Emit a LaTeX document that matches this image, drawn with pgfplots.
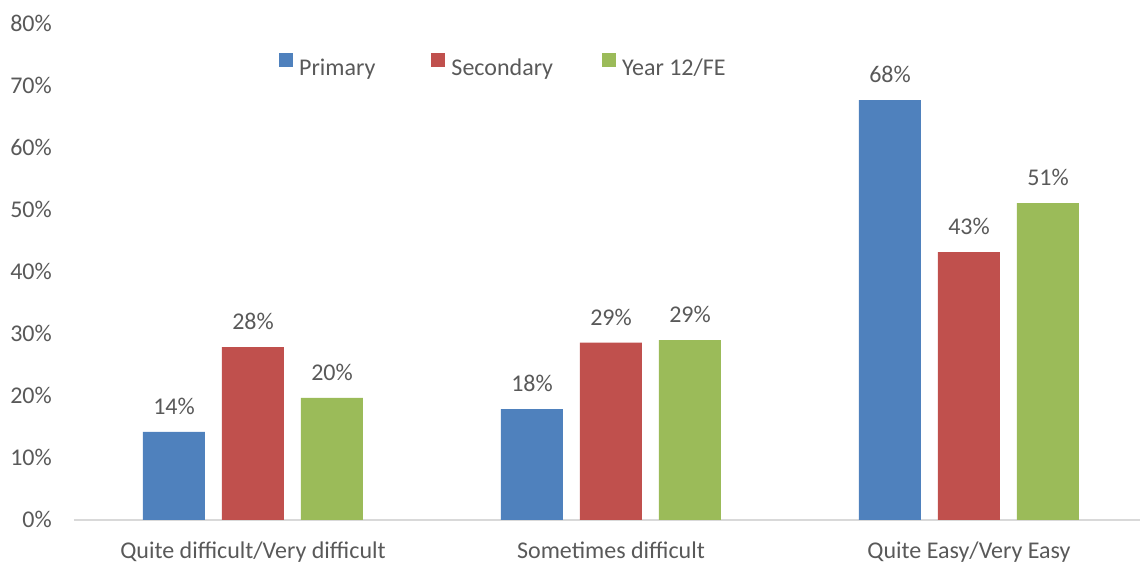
\documentclass[border=0pt]{standalone}
\usepackage{fontspec}
\setmainfont{Carlito}
\usepackage{pgfplots}
\pgfplotsset{compat=1.18}
\definecolor{cblue}{HTML}{4F81BD}
\definecolor{cred}{HTML}{C0504D}
\definecolor{cgreen}{HTML}{9BBB59}
\definecolor{ctext}{HTML}{595959}
\definecolor{cline}{HTML}{D9D9D9}
\begin{document}
\begin{tikzpicture}
\begin{axis}[
  x=358pt, y=6.2pt,
  xmin=-0.5, xmax=2.4777, ymin=0, ymax=80,
  ybar=17pt, bar width=62pt,
  axis x line*=bottom, axis y line*=left,
  x axis line style={draw=cline, line width=1.2pt},
  y axis line style={draw=none},
  xtick={0,1,2},
  xticklabels={Quite difficult/Very difficult, Sometimes difficult, Quite Easy/Very Easy},
  ytick={0,10,...,80},
  yticklabels={0\%,10\%,20\%,30\%,40\%,50\%,60\%,70\%,80\%},
  major tick length=0pt,
  tick style={draw=none},
  every tick label/.append style={text=ctext, font=\fontsize{24}{28}\selectfont},
  xticklabel style={anchor=base, yshift=-38.5pt},
  yticklabel style={anchor=base east, inner sep=0pt, xshift=-22pt, yshift=-7.6pt},
  nodes near coords={\pgfmathprintnumber[fixed,precision=0,assume math mode=true]{\pgfplotspointmeta}\%},
  every node near coord/.append style={text=ctext, font=\fontsize{24}{28}\selectfont, anchor=base, yshift=17.4pt},
  legend style={at={(0.1923,0.9153)}, anchor=west, draw=none, fill=none,
    inner sep=0pt, font=\fontsize{24}{28}\selectfont, text=ctext,
    /tikz/column 2/.style={column sep=54pt},
    /tikz/column 4/.style={column sep=47pt}},
  legend columns=3,
  legend cell align=left,
]
\addplot[fill=cblue, draw=none,
  legend image code/.code={\fill[cblue] (0pt,0.5pt) rectangle (14pt,14.5pt); \path (18pt,7pt);}]
  coordinates {(0,14.2) (1,17.9) (2,67.7)};
\addlegendentry{Primary}
\addplot[fill=cred, draw=none,
  legend image code/.code={\fill[cred] (0pt,0.5pt) rectangle (14pt,14.5pt); \path (18pt,7pt);}]
  coordinates {(0,27.9) (1,28.6) (2,43.2)};
\addlegendentry{Secondary}
\addplot[fill=cgreen, draw=none,
  legend image code/.code={\fill[cgreen] (0pt,0.5pt) rectangle (14pt,14.5pt); \path (18pt,7pt);}]
  coordinates {(0,19.7) (1,29.0) (2,51.1)};
\addlegendentry{Year 12/FE}
\end{axis}
\pgfresetboundingbox
\path ([shift={(-74pt,-43pt)}]current axis.south west) rectangle ([shift={(0pt,24pt)}]current axis.north east);
\end{tikzpicture}
\end{document}
